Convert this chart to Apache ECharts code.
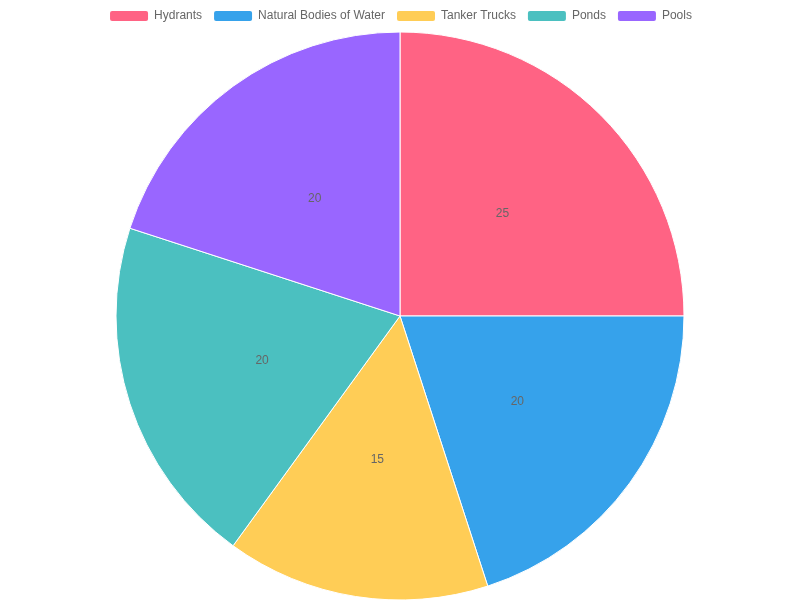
<!DOCTYPE html>
<html><head><meta charset="utf-8">
<script src="https://cdn.jsdelivr.net/npm/echarts@6/dist/echarts.min.js"></script>
<style>html,body{margin:0;padding:0;background:#fff}#c{width:800px;height:600px}</style>
</head><body><div id="c"></div>
<script>
const categories = ['Hydrants', 'Natural Bodies of Water', 'Tanker Trucks', 'Ponds', 'Pools'];
const values = [25, 20, 15, 20, 20];
const colors = ['rgb(255,99,132)', 'rgb(54,162,235)', 'rgb(255,205,86)', 'rgb(75,192,192)', 'rgb(153,102,255)'];

const chart = echarts.init(document.getElementById('c'));
chart.setOption({
  animation: false,
  textStyle: { fontFamily: 'Liberation Sans, Arial, sans-serif' },
  legend: {
    top: 4,
    left: 'center',
    itemWidth: 40,
    itemHeight: 12,
    itemGap: 10,
    textStyle: { fontSize: 12, color: '#666' },
    data: categories
  },
  series: [{
    type: 'pie',
    center: [400, 316],
    radius: [0, 284],
    startAngle: 90,
    clockwise: true,
    avoidLabelOverlap: false,
    itemStyle: { borderColor: '#fff', borderWidth: 1 },
    label: { position: 'inside', color: '#666', fontSize: 12, formatter: '{c}' },
    labelLine: { show: false },
    emphasis: { disabled: true },
    data: categories.map((n, i) => ({ name: n, value: values[i], itemStyle: { color: colors[i] } }))
  }]
});
</script></body></html>
